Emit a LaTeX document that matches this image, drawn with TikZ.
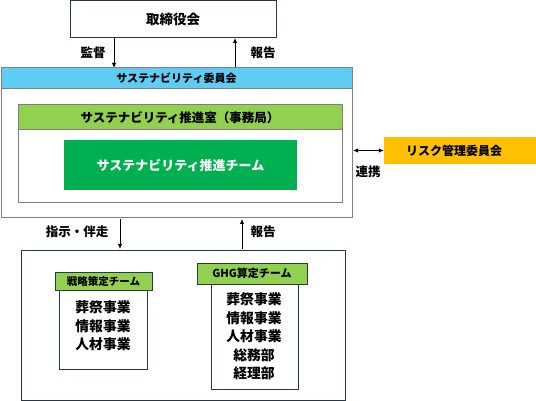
\documentclass[tikz,border=0pt]{standalone}
\usepackage{fontspec}
\setmainfont{Noto Sans CJK JP}
\usetikzlibrary{arrows.meta}
\definecolor{navy}{HTML}{24394A}
\definecolor{bluehd}{HTML}{5ECCF3}
\definecolor{greenhd}{HTML}{92D050}
\definecolor{greenteam}{HTML}{00B050}
\definecolor{riskc}{HTML}{FFC000}
\definecolor{grayline}{HTML}{7F7F7F}
\tikzset{
  px/.style={x=1pt,y=-1pt},
  box/.style={draw=navy,line width=1pt,fill=white},
  gbox/.style={draw=grayline,line width=1pt,fill=white},
  lbl/.style={font=\fontsize{12.5}{14}\selectfont\bfseries,inner sep=0pt},
  arr/.style={-{Latex[length=5pt,width=4.5pt]},line width=0.9pt,black},
  darr/.style={{Latex[length=5pt,width=4.5pt]}-{Latex[length=5pt,width=4.5pt]},line width=0.9pt,black},
  itm/.style={font=\fontsize{13.8}{18.5}\selectfont\bfseries,align=center,inner sep=0pt}
}
\begin{document}
\begin{tikzpicture}[px]
\useasboundingbox (0,0) rectangle (536,401);
% board
\draw[box] (70,1) rectangle (276,38);
\node[font=\fontsize{13.5}{16}\selectfont\bfseries] (boardt) at (173,19) {取締役会};
\coordinate (bA) at (114,38); \coordinate (bB) at (235,38);
\coordinate (cA) at (114,68); \coordinate (cB) at (235,68);
\draw[arr] (bA) -- (cA);
\draw[arr] (cB) -- (bB);
\node[lbl] (l1) at (93,53) {監督};
\node[lbl] (l2) at (263,53) {報告};
% committee
\draw[gbox] (1,68) rectangle (352,218);
\draw[draw=grayline,line width=1pt,fill=bluehd] (1,68) rectangle (352,89);
\node[font=\fontsize{11}{13}\selectfont\bfseries] (comm) at (176.5,78.5) {サステナビリティ委員会};
% office
\draw[gbox] (18,105) rectangle (342,203);
\draw[draw=grayline,line width=1pt,fill=greenhd] (18,105) rectangle (342,130);
\node[font=\fontsize{12.5}{15}\selectfont\bfseries] (office) at (180,117.5) {サステナビリティ推進室（事務局）};
\node[fill=greenteam,minimum width=233pt,minimum height=50pt,inner sep=0pt,text=white,font=\fontsize{13}{15}\selectfont\bfseries] (team) at (180.5,165) {サステナビリティ推進チーム};
% risk
\node[fill=riskc,minimum width=152pt,minimum height=27pt,inner sep=0pt] (risk) at (460,150.5) {};
\node[font=\fontsize{12}{14}\selectfont\bfseries] (riskt) at (454,150.5) {リスク管理委員会};
\coordinate (cR) at (353,150.5);
\draw[darr] (cR) -- (risk.west);
\node[lbl] (l3) at (368,172) {連携};
% arrows to bottom
\coordinate (dA) at (120,219); \coordinate (dB) at (242,219);
\coordinate (eA) at (120,249); \coordinate (eB) at (242,249);
\draw[arr] (dA) -- (eA);
\draw[arr] (eB) -- (dB);
\node[lbl] (l4) at (77,232) {指示・伴走};
\node[lbl] (l5) at (263,232) {報告};
% bottom box
\draw[box] (21,250) rectangle (345,400);
% strategy team
\draw[box] (59,290) rectangle (147,369);
\draw[box,fill=greenhd] (55,272) rectangle (152,290);
\node[font=\fontsize{10.5}{12}\selectfont\bfseries] (st) at (103.5,281) {戦略策定チーム};
\node[itm] (stl) at (103,326) {葬祭事業\\情報事業\\人材事業};
% GHG team
\draw[box] (211,284) rectangle (298,389);
\draw[box,fill=greenhd] (197,263) rectangle (307,284);
\node[font=\fontsize{11}{13}\selectfont\bfseries] (gt) at (252,273.5) {GHG算定チーム};
\node[itm] (gtl) at (254,336.5) {葬祭事業\\情報事業\\人材事業\\総務部\\経理部};
\end{tikzpicture}
\end{document}
